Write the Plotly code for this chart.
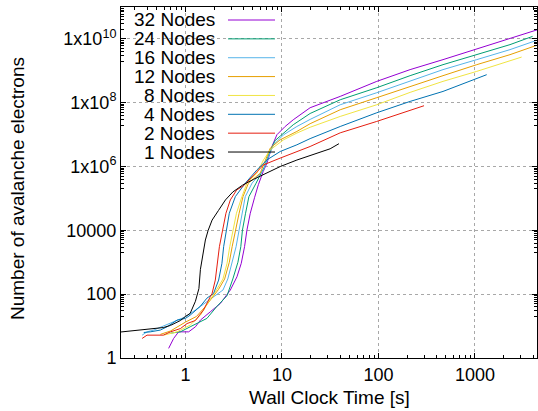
import math
import plotly.graph_objects as go

# ---------------- data ----------------
names = ["32 Nodes", "24 Nodes", "16 Nodes", "12 Nodes", "8 Nodes", "4 Nodes", "2 Nodes", "1 Nodes"]
colors = ["#9400d3", "#009e73", "#56b4e9", "#e69f00", "#f0e442", "#0072b2", "#e51e10", "#000000"]

purple_t = [0.67, 0.755, 0.85, 1.08, 1.27, 1.43, 1.81, 2.30, 2.92, 3.42, 3.79, 4.10, 4.34, 4.70, 5.2, 5.7,
            6.4, 7.0, 7.88, 8.87, 10.8, 13.1, 19.6, 40.2, 96.2, 213, 467, 1045, 2310, 4500]
purple_n = [2.0, 4.1, 6.6, 6.6, 9.5, 15.4, 28, 51, 135, 350, 927, 3080, 10200, 34400, 105000, 270000,
            700000, 1.28e6, 4.25e6, 9.9e6, 1.8e7, 2.92e7, 6.97e7, 1.58e8, 4.67e8, 1.09e9, 2.24e9, 4.85e9,
            1.0e10, 1.96e10]

green_t = [0.70, 0.886, 1.12, 1.32, 1.67, 2.1, 2.7, 3.1, 3.5, 3.75, 3.9, 4.2, 4.55, 5.4, 6.6, 7.5, 8.5,
           9.6, 11.3, 13.1, 19.6, 40.2, 96.2, 213, 467, 1045, 2310, 3960]
green_n = [6.0, 6.6, 9.5, 12.1, 17.4, 40, 90, 300, 1000, 3080, 10200, 34400, 114000, 301000, 1.0e6,
           3.0e6, 6.5e6, 9.0e6, 1.4e7, 2.04e7, 4.6e7, 1.24e8, 2.96e8, 7.05e8, 1.56e9, 3.21e9, 6.62e9, 1.2e10]

lblue_t = [0.356, 0.40, 0.469, 0.698, 1.0, 1.27, 1.61, 2.0, 2.45, 2.75, 3.05, 3.35, 3.6, 3.85, 4.17, 4.9,
           6.45, 7.26, 8.19, 10.4, 14.3, 19.6, 40.2, 96.2, 213, 467, 1045, 2310, 4360]
lblue_n = [5.2, 6.6, 7.5, 12.1, 19.5, 32, 55, 85, 135, 300, 927, 3080, 10200, 34400, 114000, 301000,
           787000, 2.06e6, 4.8e6, 9.9e6, 1.8e7, 3.0e7, 8.65e7, 2.06e8, 4.67e8, 1.09e9, 2.24e9, 4.61e9, 9.0e9]

orange_t = [0.55, 0.7, 1.0, 1.3, 1.6, 1.9, 2.2, 2.55, 2.85, 3.05, 3.3, 3.6, 3.95, 4.5, 5.96, 6.71, 7.57,
            9.6, 14.3, 19.6, 40.2, 96.2, 213, 467, 1045, 2310, 4500]
orange_n = [5.5, 7, 13.3, 20, 40, 80, 140, 300, 1000, 3080, 10200, 34400, 114000, 301000, 621000, 1.62e6,
            3.78e6, 6.89e6, 1.26e7, 2.2e7, 6.03e7, 1.44e8, 3.25e8, 7.05e8, 1.56e9, 3.21e9, 6.5e9]

yellow_t = [0.594, 0.819, 1.12, 1.43, 1.73, 2.04, 2.45, 2.7, 2.88, 3.1, 3.38, 3.85, 4.34, 5.51, 6.45, 7.57,
            10.4, 14.3, 19.6, 40.2, 96.2, 213, 467, 1045, 2310, 3050]
yellow_n = [5.2, 6.6, 10.7, 22, 56, 118, 300, 927, 3080, 10200, 34400, 114000, 301000, 621000, 1.62e6,
            3.34e6, 6.89e6, 1.12e7, 1.7e7, 3.72e7, 8.65e7, 2.11e8, 4.67e8, 9.6e8, 2.0e9, 2.7e9]

blue_t = [0.37, 0.433, 0.549, 0.645, 0.819, 1.0, 1.12, 1.43, 1.67, 1.96, 2.21, 2.39, 2.49, 2.65, 2.85,
          3.29, 4.17, 5.51, 7.0, 9.6, 14.3, 19.6, 40.2, 96.2, 213, 467, 1325]
blue_n = [6.3, 6.6, 7.5, 9.5, 15.4, 17.4, 22, 42, 75, 106, 277, 927, 3080, 10200, 34400, 114000, 301000,
          787000, 1.62e6, 2.96e6, 4.8e6, 7.5e6, 1.8e7, 4.85e7, 1.1e8, 2.26e8, 7.57e8]

red_t = [0.356, 0.40, 0.59, 0.70, 0.89, 1.04, 1.27, 1.54, 1.81, 1.89, 2.04, 2.15, 2.25, 2.43, 2.63, 2.92,
         3.4, 4.0, 5.08, 6.45, 9.6, 14.3, 19.6, 40.2, 96, 297]
red_n = [4.1, 5.2, 5.2, 6.6, 8.4, 12, 15, 32, 83, 106, 277, 927, 3080, 10200, 34400, 90000, 185000,
         250000, 548000, 1.13e6, 1.84e6, 2.96e6, 4.25e6, 1.14e7, 2.59e7, 8.06e7]

black_t = [0.2, 0.46, 0.59, 0.7, 0.89, 1.0, 1.12, 1.27, 1.38, 1.43, 1.49, 1.54, 1.61, 1.72, 1.89, 2.2,
           2.6, 3.1, 3.9, 5.1, 6.45, 9.6, 14.3, 19.6, 31.6, 39]
black_n = [6.4, 8.2, 9.0, 10.5, 15, 20, 25, 60, 150, 600, 1300, 3000, 5000, 10000, 21000, 42000,
           90000, 160000, 260000, 400000, 550000, 1.0e6, 1.6e6, 2.2e6, 3.6e6, 5.2e6]

times = [purple_t, green_t, lblue_t, orange_t, yellow_t, blue_t, red_t, black_t]
counts = [purple_n, green_n, lblue_n, orange_n, yellow_n, blue_n, red_n, black_n]

x_ticks = [1, 10, 100, 1000]
x_ticktext = ["1", "10", "100", "1000"]
y_ticks = [1, 100, 1e4, 1e6, 1e8, 1e10]
y_ticktext = ["1", "100", "10000", "1x10<sup>6</sup>", "1x10<sup>8</sup>", "1x10<sup>10</sup>"]

x_title = "Wall Clock Time [s]"
y_title = "Number of avalanche electrons"

# ---------------- figure ----------------
W, H = 538, 411
ML, MR, MT, MB = 121, 1, 7, 53
PW, PH = W - ML - MR, H - MT - MB

FONT = "Liberation Sans, Arial, sans-serif"

fig = go.Figure()
for name, t, n, c in zip(names, times, counts, colors):
    fig.add_trace(go.Scatter(x=t, y=n, mode="lines", name=name,
                             line=dict(color=c, width=1), showlegend=False))

x_minor = [j * 10 ** k for k in range(-1, 4) for j in range(2, 10) if 0.2 <= j * 10 ** k <= 4400]
y_minor = [j * 10 ** k for k in (1, 3, 5, 7, 9, 10) for j in range(2, 10)]

axis_common = dict(
    type="log", showline=True, linecolor="black", linewidth=1, mirror="ticks",
    ticks="inside", ticklen=5, tickwidth=1, tickcolor="black",
    showgrid=True, gridcolor="#a8a8a8", griddash="dot", gridwidth=1,
    tickfont=dict(family=FONT, size=18, color="black"), zeroline=False,
)

fig.update_xaxes(**axis_common, range=[math.log10(0.215), math.log10(4400)],
                 tickmode="array", tickvals=x_ticks, ticktext=x_ticktext,
                 minor=dict(tickmode="array", tickvals=x_minor, ticks="inside", ticklen=3,
                            tickcolor="black", showgrid=False))
fig.update_yaxes(**axis_common, range=[0, 11],
                 tickmode="array", tickvals=y_ticks, ticktext=y_ticktext,
                 minor=dict(tickmode="array", tickvals=y_minor, ticks="inside", ticklen=3,
                            tickcolor="black", showgrid=False))


def px_x(px):
    return (px - ML) / PW


def px_y(py):
    return 1 - (py - MT) / PH


annotations = [
    dict(text=x_title, xref="paper", yref="paper", x=0.5, y=px_y(398), xanchor="center",
         yanchor="middle", showarrow=False, font=dict(family=FONT, size=19, color="black")),
    dict(text=y_title, xref="paper", yref="paper", x=px_x(17), y=px_y(189), xanchor="center",
         yanchor="middle", textangle=-90, showarrow=False,
         font=dict(family=FONT, size=19, color="black")),
]
shapes = []
row0, drow = 20, 18.86
for i, (name, c) in enumerate(zip(names, colors)):
    yy = px_y(row0 + i * drow)
    annotations.append(dict(text=name, xref="paper", yref="paper", x=px_x(217), y=yy,
                            xanchor="right", yanchor="middle", showarrow=False,
                            font=dict(family=FONT, size=19, color="black")))
    shapes.append(dict(type="line", xref="paper", yref="paper", x0=px_x(228), x1=px_x(275),
                       y0=yy, y1=yy, line=dict(color=c, width=1)))

fig.update_layout(
    width=W, height=H, margin=dict(l=ML, r=MR, t=MT, b=MB),
    paper_bgcolor="white", plot_bgcolor="white",
    annotations=annotations, shapes=shapes, showlegend=False,
    font=dict(family=FONT, size=18, color="black"),
)

fig.write_html("out.html")
